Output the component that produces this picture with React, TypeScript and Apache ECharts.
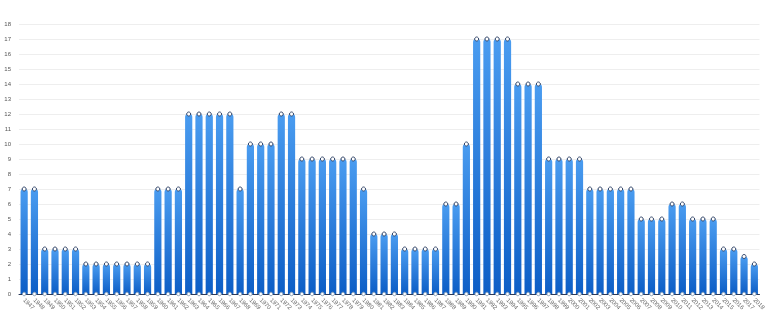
import React, { useEffect, useRef } from "react";
import * as echarts from "echarts";

const years: string[] = [];
for (let y = 1947; y <= 2018; y++) years.push(String(y));

const values: number[] = [
  7, 7, 3, 3, 3, 3, 2, 2, 2, 2, 2, 2, 2, 7, 7, 7, 12, 12, 12, 12, 12, 7, 10, 10, 10, 12, 12,
  9, 9, 9, 9, 9, 9, 7, 4, 4, 4, 3, 3, 3, 3, 6, 6, 10, 17, 17, 17, 17, 14, 14, 14, 9, 9, 9, 9,
  7, 7, 7, 7, 7, 5, 5, 5, 6, 6, 5, 5, 5, 3, 3, 2.5, 2,
];

const zeros: number[] = values.map(() => 0);

export default function App() {
  const ref = useRef<HTMLDivElement>(null);
  useEffect(() => {
    if (!ref.current) return;
    const chart = echarts.init(ref.current, undefined, { renderer: "svg" });
    chart.setOption({
      animation: false,
      grid: { left: 19, right: 5, top: 24, bottom: 26, containLabel: false },
      xAxis: {
        type: "category",
        data: years,
        boundaryGap: true,
        axisLine: { show: true, lineStyle: { color: "#2a3a5a", width: 1 } },
        axisTick: { show: false },
        axisLabel: {
          rotate: -45,
          fontSize: 6,
          color: "#666",
          interval: 0,
          margin: 5,
          fontFamily: "Liberation Sans",
        },
      },
      yAxis: {
        type: "value",
        min: 0,
        max: 18,
        interval: 1,
        axisLine: { show: false },
        axisTick: { show: false },
        splitLine: { lineStyle: { color: "#eeeeee", width: 1 } },
        axisLabel: { fontSize: 6, color: "#555", margin: 8, fontFamily: "Liberation Sans" },
      },
      series: [
        {
          type: "bar",
          data: values,
          barWidth: "70%",
          itemStyle: {
            borderRadius: [3, 3, 0, 0],
            color: new echarts.graphic.LinearGradient(0, 0, 0, 1, [
              { offset: 0, color: "#4a9cf0" },
              { offset: 1, color: "#0d5ec6" },
            ]),
          },
        },
        {
          type: "line",
          data: values,
          symbol: "circle",
          symbolSize: 4,
          lineStyle: { opacity: 0 },
          itemStyle: { color: "#ffffff", borderColor: "#34476a", borderWidth: 1 },
          z: 5,
        },
        {
          type: "line",
          data: zeros,
          symbol: "circle",
          symbolSize: 3.5,
          lineStyle: { opacity: 0 },
          itemStyle: { color: "#ffffff", borderColor: "#8aa0b8", borderWidth: 1 },
          z: 5,
        },
      ],
    });
    return () => chart.dispose();
  }, []);
  return (
    <div
      ref={ref}
      style={{ position: "fixed", left: 0, top: 0, width: 768, height: 320 }}
    />
  );
}
